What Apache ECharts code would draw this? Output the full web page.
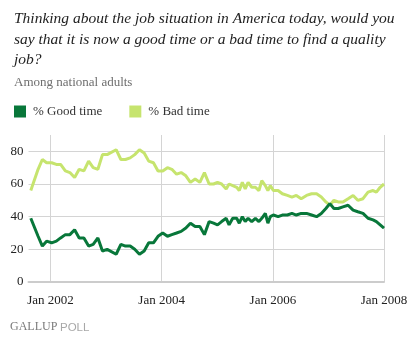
<!DOCTYPE html>
<html>
<head>
<meta charset="utf-8">
<script src="https://cdn.jsdelivr.net/npm/echarts@6/dist/echarts.min.js"></script>
<style>
  html, body { margin: 0; padding: 0; background: #ffffff; }
  #chart { width: 420px; height: 342px; }
</style>
</head>
<body>
<div id="chart"></div>
<script>
// Poll field dates (Gallup monthly, twice-monthly through much of 2005)
const pollDates = [
  '2001-08-24', '2001-10-11', '2001-11-08', '2001-12-06',
  '2002-01-08', '2002-02-08', '2002-03-08', '2002-04-08', '2002-05-08', '2002-06-08',
  '2002-07-08', '2002-08-08', '2002-09-08', '2002-10-08', '2002-11-08', '2002-12-08',
  '2003-01-08', '2003-03-08', '2003-04-08', '2003-05-08', '2003-06-08', '2003-07-08',
  '2003-08-08', '2003-09-08', '2003-10-08', '2003-11-08', '2003-12-08',
  '2004-01-08', '2004-02-08', '2004-03-08', '2004-04-08', '2004-05-08', '2004-06-08',
  '2004-07-08', '2004-08-08', '2004-09-08', '2004-10-08', '2004-11-08', '2004-12-07',
  '2005-01-02', '2005-01-29', '2005-02-28', '2005-03-19', '2005-04-12', '2005-05-08',
  '2005-05-25', '2005-06-14', '2005-07-03', '2005-07-22', '2005-08-15', '2005-09-08',
  '2005-10-01', '2005-10-20', '2005-11-12', '2005-11-29', '2005-12-15',
  '2006-01-04', '2006-02-04', '2006-03-04', '2006-04-06', '2006-05-06', '2006-06-04',
  '2006-07-06', '2006-08-10', '2006-09-12', '2006-10-15', '2006-11-15', '2006-12-15',
  '2007-01-10', '2007-02-06', '2007-03-06', '2007-04-06', '2007-05-10', '2007-06-12',
  '2007-07-13', '2007-08-16', '2007-09-18', '2007-10-21', '2007-11-12', '2007-12-07',
  '2008-01-01'
];

// % saying it is a good time to find a quality job
const goodTime = [
  39, 28, 22, 25,
  24, 25, 27, 29, 29, 32,
  27, 27, 22, 23, 27, 19,
  20, 17, 23, 22, 22, 20,
  17, 19, 24, 24, 28,
  30, 28, 29, 30, 31, 33,
  36, 34, 34, 29, 37, 36,
  35, 37, 39, 35, 39, 39,
  36, 40, 37, 39, 37, 39,
  37, 39, 42, 36, 40,
  41, 40, 41, 41, 42, 41,
  42, 42, 41, 40, 42, 45,
  48, 45, 45, 46, 47, 44,
  43, 42, 39, 38, 37, 35,
  33
];

// % saying it is a bad time to find a quality job
const badTime = [
  56, 69, 75, 73,
  73, 72, 72, 68, 67, 64,
  69, 68, 74, 70, 69, 78,
  78, 81, 75, 75, 76, 78,
  81, 79, 74, 73, 68,
  68, 70, 69, 66, 67, 65,
  61, 63, 61, 67, 60, 60,
  61, 60, 57, 60, 59, 58,
  56, 61, 57, 61, 58, 58,
  56, 62, 59, 56, 59,
  56, 56, 54, 53, 52, 53,
  51, 53, 54, 54, 52, 49,
  47, 50, 49, 49, 51, 53,
  50, 51, 55, 56, 55, 58,
  60
];

const seriesNames = ['% Good time', '% Bad time'];
const xTickDates = ['2002-01-01', '2004-01-01', '2006-01-01', '2008-01-01'];
const xRange = ['2001-08-09', '2008-01-01'];
const yTicks = [0, 20, 40, 60, 80];

const DARK_GREEN = '#08773a';
const LIGHT_GREEN = '#c6e46e';
const SERIF = "'Liberation Serif', 'DejaVu Serif', serif";

// dates are placed on a plain numeric axis as UTC milliseconds
const ts = (s) => Date.parse(s + 'T00:00:00Z');
const toPairs = (vals) => pollDates.map((d, i) => [ts(d), vals[i]]);
const MONTHS = ['Jan', 'Feb', 'Mar', 'Apr', 'May', 'Jun', 'Jul', 'Aug', 'Sep', 'Oct', 'Nov', 'Dec'];

const chart = echarts.init(document.getElementById('chart'), null, { renderer: 'canvas' });

chart.setOption({
  animation: false,
  backgroundColor: '#ffffff',
  title: [
    {
      text: 'Thinking about the job situation in America today, would you\nsay that it is now a good time or a bad time to find a quality\njob?',
      left: 9,
      top: 4,
      textStyle: {
        fontFamily: SERIF,
        fontStyle: 'italic',
        fontWeight: 'normal',
        fontSize: 15.5,
        lineHeight: 20.5,
        color: '#222222'
      }
    },
    {
      text: 'Among national adults',
      left: 9,
      top: 71,
      textStyle: {
        fontFamily: SERIF,
        fontWeight: 'normal',
        fontSize: 13,
        color: '#6e6e6e'
      }
    }
  ],
  legend: {
    data: seriesNames,
    left: 9,
    top: 100,
    icon: 'rect',
    itemWidth: 12,
    itemHeight: 12,
    itemGap: 27,
    textStyle: {
      fontFamily: SERIF,
      fontSize: 13,
      color: '#333333',
      padding: [0, 0, 0, 2]
    }
  },
  grid: {
    left: 28.5,
    right: 36,
    top: 135,
    bottom: 60,
    containLabel: false,
    outerBoundsMode: 'none'
  },
  xAxis: {
    type: 'value',
    min: ts(xRange[0]),
    max: ts(xRange[1]),
    axisLine: { show: true, lineStyle: { color: '#cccccc', width: 2 } },
    axisTick: { show: false, customValues: xTickDates.map(ts) },
    splitLine: { show: true, lineStyle: { color: '#d4d4d4', width: 1 } },
    axisLabel: {
      customValues: xTickDates.map(ts),
      margin: 12,
      fontFamily: SERIF,
      fontSize: 13,
      color: '#222222',
      formatter: (value) => {
        const d = new Date(value);
        return MONTHS[d.getUTCMonth()] + ' ' + d.getUTCFullYear();
      }
    }
  },
  yAxis: {
    type: 'value',
    min: 0,
    max: 90,
    interval: 10,
    axisLine: { show: false },
    axisTick: { show: false, customValues: yTicks },
    splitLine: { show: true, lineStyle: { color: '#d4d4d4', width: 1 } },
    axisLabel: {
      customValues: yTicks,
      margin: 5,
      fontFamily: SERIF,
      fontSize: 13,
      color: '#222222'
    }
  },
  series: [
    {
      name: seriesNames[1],
      type: 'line',
      data: toPairs(badTime),
      showSymbol: false,
      symbol: 'none',
      lineStyle: { color: LIGHT_GREEN, width: 3 },
      itemStyle: { color: LIGHT_GREEN },
      z: 2
    },
    {
      name: seriesNames[0],
      type: 'line',
      data: toPairs(goodTime),
      showSymbol: false,
      symbol: 'none',
      lineStyle: { color: DARK_GREEN, width: 3 },
      itemStyle: { color: DARK_GREEN },
      z: 3
    }
  ],
  graphic: [
    {
      type: 'text',
      left: 10,
      top: 321,
      style: {
        text: 'GALLUP',
        font: "12px 'Liberation Serif', serif",
        fill: '#7a7a7a'
      }
    },
    {
      type: 'text',
      left: 60,
      top: 322,
      style: {
        text: 'POLL',
        font: "11.5px 'Liberation Sans', sans-serif",
        fill: '#a8a8a8'
      }
    }
  ]
});
</script>
</body>
</html>
